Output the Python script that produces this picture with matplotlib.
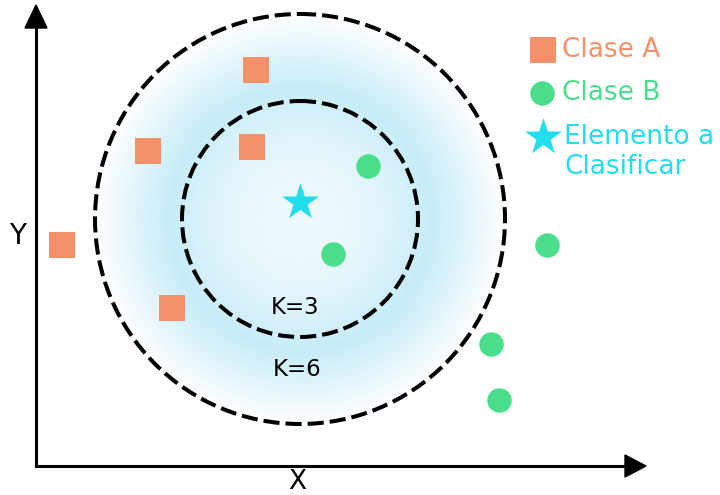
import matplotlib.pyplot as plt
import numpy as np
from matplotlib.patches import Ellipse

# data in picture units (x to the right, y downward)
class_a_x = [256, 148, 252, 62, 172]
class_a_y = [70, 151, 147, 245, 308]
class_b_x = [368, 333, 547, 491, 499]
class_b_y = [166, 254, 245, 344, 400]
target_x, target_y = 300, 202

center = (300, 219)
radius_k3 = 118
radius_k6 = 205

legend_labels = ["Clase A", "Clase B", "Elemento a\nClasificar"]

c_a = "#F4916A"
c_b = "#4ADE8C"
c_t = "#22DDEB"

fig = plt.figure(figsize=(7.2, 4.95), dpi=100)
ax = fig.add_axes([0, 0, 1, 1])
ax.set_xlim(0, 720)
ax.set_ylim(495, 0)
ax.axis("off")

# radial glow, strongest just outside the K=3 ring
yy, xx = np.mgrid[0:495, 0:720]
r = np.hypot(xx - center[0], yy - center[1])
peak = 130.0
a = np.where(r < peak, 0.14 + 0.28 * (r / peak) ** 2.5,
             0.42 * np.clip(1 - (r - peak) / (radius_k6 - peak), 0, 1) ** 0.95)
a[r > radius_k6] = 0
rgba = np.zeros((495, 720, 4))
rgba[..., 0] = 0.47
rgba[..., 1] = 0.82
rgba[..., 2] = 0.93
rgba[..., 3] = a
ax.imshow(rgba, extent=(0, 720, 495, 0), interpolation="bilinear", zorder=0)

for rad in (radius_k3, radius_k6):
    ax.add_patch(Ellipse(center, 2 * rad, 2 * rad, fill=False, ec="black",
                         lw=2.9, ls=(0, (4.0, 1.5)), zorder=2))

ax.text(295, 308, "K=3", fontsize=16.5, ha="center", va="center", zorder=3)
ax.text(297, 370, "K=6", fontsize=16.5, ha="center", va="center", zorder=3)

# axes with arrows
ax.plot([36, 36], [466, 22], color="black", lw=2.2, zorder=1)
ax.plot([36, 630], [466, 466], color="black", lw=2.2, zorder=1)
ax.fill([25, 47, 36], [28, 28, 5], color="black", zorder=1)
ax.fill([625, 625, 646], [455, 477, 466], color="black", zorder=1)
ax.text(18, 236, "Y", fontsize=20, ha="center", va="center")
ax.text(297, 482, "X", fontsize=19, ha="center", va="center")

ax.scatter(class_a_x, class_a_y, marker="s", s=350, color=c_a, lw=0, zorder=4)
ax.scatter(class_b_x, class_b_y, marker="o", s=310, color=c_b, lw=0, zorder=4)
ax.scatter([target_x], [target_y], marker="*", s=780, color=c_t, lw=0, zorder=4)

# legend
leg_y = [50, 93, 137]
ax.scatter([543], [leg_y[0]], marker="s", s=350, color=c_a, lw=0)
ax.scatter([542], [leg_y[1]], marker="o", s=310, color=c_b, lw=0)
ax.scatter([543], [leg_y[2]], marker="*", s=780, color=c_t, lw=0)
ax.text(562, leg_y[0], legend_labels[0], fontsize=19, color=c_a, va="center")
ax.text(562, leg_y[1], legend_labels[1], fontsize=19, color=c_b, va="center")
ax.text(564, leg_y[2] + 15, legend_labels[2], fontsize=19, color=c_t, va="center",
        linespacing=1.15)

fig.savefig("out.png")
